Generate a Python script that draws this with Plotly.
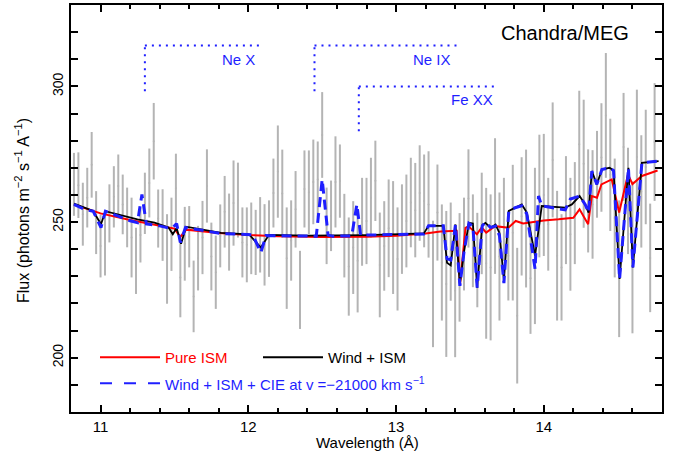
import plotly.graph_objects as go

# ---------------- data ----------------
WAVE = [10.82, 10.85, 10.88, 10.91, 10.94, 10.97, 11.00, 11.03, 11.06, 11.09,
        11.12, 11.15, 11.18, 11.21, 11.24, 11.27, 11.30, 11.33, 11.36, 11.39,
        11.42, 11.45, 11.48, 11.51, 11.54, 11.57, 11.60, 11.63, 11.66, 11.69,
        11.72, 11.75, 11.78, 11.81, 11.84, 11.87, 11.90, 11.93, 11.96, 11.99,
        12.02, 12.05, 12.08, 12.11, 12.14, 12.17, 12.20, 12.23, 12.26, 12.29,
        12.32, 12.35, 12.38, 12.41, 12.44, 12.47, 12.50, 12.53, 12.56, 12.59,
        12.62, 12.65, 12.68, 12.71, 12.74, 12.77, 12.80, 12.83, 12.86, 12.89,
        12.92, 12.95, 12.98, 13.01, 13.04, 13.07, 13.10, 13.13, 13.16, 13.19,
        13.22, 13.25, 13.28, 13.31, 13.34, 13.37, 13.40, 13.43, 13.46, 13.49,
        13.52, 13.55, 13.58, 13.61, 13.64, 13.67, 13.70, 13.73, 13.76, 13.79,
        13.82, 13.85, 13.88, 13.91, 13.94, 13.97, 14.00, 14.03, 14.06, 14.09,
        14.12, 14.15, 14.18, 14.21, 14.24, 14.27, 14.30, 14.33, 14.36, 14.39,
        14.42, 14.45, 14.48, 14.51, 14.54, 14.57, 14.60, 14.63, 14.66, 14.69,
        14.72, 14.75]

FLUX = [263.9, 263.6, 252.9, 259.0, 271.1, 249.8, 241.2, 242.2, 253.2, 259.3,
        263.3, 256.5, 251.7, 244.3, 235.7, 245.2, 256.9, 264.4, 279.8, 251.3,
        248.9, 236.4, 245.5, 262.5, 229.6, 242.0, 244.6, 222.6, 236.7, 244.3,
        263.3, 237.3, 231.5, 244.9, 253.8, 246.3, 257.0, 258.1, 242.5, 241.6,
        244.0, 242.5, 245.3, 241.6, 243.9, 260.7, 268.6, 260.5, 236.7, 243.2,
        254.7, 225.0, 262.2, 261.0, 264.8, 265.7, 282.1, 248.6, 252.3, 264.8,
        265.1, 245.0, 233.6, 240.6, 235.7, 250.1, 250.4, 259.0, 265.2, 234.2,
        241.2, 247.7, 244.3, 236.4, 247.4, 250.4, 257.2, 254.4, 260.7, 257.8,
        256.5, 227.2, 253.5, 235.1, 227.2, 239.1, 224.7, 233.3, 241.9, 258.7,
        243.1, 236.0, 249.5, 234.8, 233.3, 255.9, 237.3, 251.0, 237.6, 246.1,
        215.5, 252.1, 251.3, 229.3, 241.2, 259.6, 260.0, 249.2, 272.9, 237.6,
        233.3, 254.4, 245.5, 253.3, 278.7, 271.5, 257.8, 256.5, 267.6, 273.8,
        289.3, 267.4, 251.5, 232.8, 277.7, 257.8, 237.0, 274.0, 261.3, 270.3,
        236.8, 279.5]

ERR = [11.6, 12.1, 11.6, 11.0, 12.1, 11.6, 11.6, 11.9, 10.7, 11.3,
       11.6, 11.0, 11.0, 14.7, 12.2, 10.1, 11.3, 12.7, 14.1, 10.7,
       13.2, 16.5, 13.5, 12.7, 14.7, 13.6, 11.3, 13.2, 11.9, 13.5,
       13.5, 12.5, 13.5, 11.6, 13.2, 14.2, 15.7, 13.8, 12.9, 13.8,
       13.2, 12.0, 13.9, 15.0, 14.1, 12.7, 17.0, 16.2, 18.7, 14.8,
       14.1, 14.4, 14.2, 15.4, 15.6, 14.0, 15.8, 14.1, 13.0, 16.8,
       13.5, 15.4, 18.1, 17.1, 19.0, 16.2, 15.9, 14.7, 14.8, 19.3,
       16.5, 18.0, 20.8, 19.0, 16.5, 17.1, 16.5, 17.4, 17.6, 17.1,
       19.6, 23.3, 17.7, 21.4, 26.9, 18.1, 24.5, 20.0, 17.1, 18.1,
       17.1, 17.4, 18.7, 27.8, 26.9, 25.0, 23.6, 15.3, 16.5, 25.0,
       25.0, 21.8, 25.4, 20.5, 28.8, 22.6, 22.5, 17.1, 21.2, 23.9,
       19.6, 19.9, 20.8, 18.8, 19.7, 23.6, 19.0, 20.0, 16.0, 20.0,
       23.0, 20.7, 21.9, 25.2, 19.9, 19.6, 28.0, 24.8, 20.7, 21.1,
       20.0, 21.7]

ISM_X = [10.82, 10.90, 11.00, 11.20, 11.40, 11.50, 11.54, 11.58, 11.80, 12.00,
         12.20, 12.50, 12.80, 13.00, 13.20, 13.30, 13.41, 13.433, 13.47, 13.49,
         13.547, 13.58, 13.61, 13.67, 13.76, 13.81, 13.86, 13.93, 14.00, 14.10,
         14.20, 14.242, 14.30, 14.325, 14.36, 14.39, 14.46, 14.51, 14.57, 14.60,
         14.664, 14.77]
ISM_Y = [256.5, 255.0, 253.2, 250.8, 248.6, 247.6, 244.5, 247.2, 246.0, 245.2,
         244.8, 244.5, 244.6, 245.0, 245.8, 246.5, 246.8, 227.1, 247.9, 248.5,
         245.5, 248.0, 246.1, 248.5, 247.9, 250.4, 249.5, 250.0, 250.6, 251.0,
         251.6, 254.7, 249.2, 259.6, 259.0, 263.9, 265.7, 253.5, 267.6, 264.0,
         267.0, 269.0]

WIND_X = [10.82, 10.90, 10.95, 11.003, 11.033, 11.25, 11.365, 11.46, 11.489, 11.515,
          11.545, 11.579, 11.816, 12.005, 12.085, 12.14, 12.40, 12.80, 13.188, 13.22,
          13.32, 13.345, 13.37, 13.402, 13.432, 13.46, 13.493, 13.52, 13.549, 13.583,
          13.605, 13.64, 13.673, 13.70, 13.73, 13.763, 13.806, 13.851, 13.885, 13.941,
          13.986, 14.145, 14.19, 14.242, 14.28, 14.303, 14.325, 14.359, 14.393, 14.445,
          14.472, 14.513, 14.573, 14.603, 14.664, 14.777]
WIND_Y = [256.8, 255.2, 254.1, 249.2, 254.0, 251.0, 249.8, 248.0, 245.5, 247.8,
          242.0, 248.3, 246.0, 245.5, 240.6, 245.3, 245.0, 245.2, 245.8, 248.6,
          248.6, 235.0, 234.0, 249.1, 227.0, 239.0, 249.7, 249.5, 225.8, 248.8,
          249.7, 247.9, 249.1, 246.0, 228.4, 254.1, 255.3, 256.5, 253.5, 237.6,
          255.9, 255.3, 256.5, 259.6, 256.5, 253.5, 268.8, 263.9, 269.4, 270.0,
          269.0, 229.0, 270.0, 233.3, 271.8, 272.5]

CIE_X = [10.82, 10.90, 10.95, 11.003, 11.033, 11.20, 11.25, 11.28, 11.31, 11.40,
         11.46, 11.49, 11.515, 11.54, 11.575, 11.70, 11.81, 12.03, 12.085, 12.12,
         12.30, 12.46, 12.50, 12.54, 12.57, 12.70, 12.735, 12.76, 12.90, 13.188,
         13.22, 13.32, 13.345, 13.37, 13.402, 13.432, 13.46, 13.493, 13.52, 13.549,
         13.583, 13.605, 13.64, 13.673, 13.70, 13.73, 13.763, 13.806, 13.851, 13.885,
         13.941, 13.964, 13.986, 14.145, 14.18, 14.242, 14.28, 14.303, 14.325, 14.359,
         14.393, 14.445, 14.472, 14.513, 14.573, 14.603, 14.664, 14.777]
CIE_Y = [256.5, 254.5, 254.0, 248.0, 254.0, 250.5, 249.8, 260.2, 249.3, 248.6,
         247.8, 248.0, 249.5, 242.5, 248.0, 246.8, 245.8, 245.3, 238.8, 245.0,
         244.8, 244.8, 265.7, 245.2, 244.8, 244.9, 256.5, 245.2, 245.3, 245.6,
         248.6, 248.6, 236.5, 236.0, 249.0, 226.5, 239.0, 249.5, 248.5, 225.8,
         248.5, 250.0, 248.0, 248.5, 245.0, 227.5, 254.0, 255.3, 256.0, 253.0,
         232.7, 259.6, 256.0, 254.5, 258.5, 259.6, 256.5, 253.5, 268.8, 263.9,
         269.4, 270.0, 269.0, 229.0, 270.0, 233.3, 271.8, 272.5]

SERIES_NAMES = ["Pure ISM", "Wind + ISM", "Wind + ISM + CIE at v =\u221221000 km s<sup>\u22121</sup>"]

# line identifications: (label, x of vertical, x end of horizontal, y bottom, y top, label y, label right x)
LINE_IDS = [("Ne X", 11.30, 12.09, 298.2, 315.1, 310.0, 12.06),
            ("Ne IX", 12.448, 13.41, 298.2, 315.1, 310.0, 13.387),
            ("Fe XX", 12.748, 13.67, 283.5, 300.0, 295.3, 13.67)]

X_TICKS = [11, 12, 13, 14]
Y_TICKS = [200, 250, 300]

# ---------------- figure ----------------
FONT = "Liberation Sans, Arial, sans-serif"
RED = "#ff0000"
BLUE = "#1f1fff"
GREY = "#b4b4b4"

fig = go.Figure()
fig.add_trace(go.Scatter(
    x=WAVE, y=FLUX, mode="markers",
    marker=dict(size=2, color=GREY),
    error_y=dict(type="data", array=ERR, color=GREY, thickness=2, width=0),
    showlegend=False, hoverinfo="x+y"))
fig.add_trace(go.Scatter(x=ISM_X, y=ISM_Y, mode="lines", name=SERIES_NAMES[0],
                         line=dict(color=RED, width=2), showlegend=False))
fig.add_trace(go.Scatter(x=WIND_X, y=WIND_Y, mode="lines", name=SERIES_NAMES[1],
                         line=dict(color="black", width=1.8), showlegend=False))
fig.add_trace(go.Scatter(x=CIE_X, y=CIE_Y, mode="lines", name=SERIES_NAMES[2],
                         line=dict(color=BLUE, width=3, dash="10px,6px"), showlegend=False))

shapes = []
annotations = []
for label, xv, xe, yb, yt, ylab, xlab in LINE_IDS:
    shapes.append(dict(type="line", xref="x", yref="y", x0=xv, x1=xv, y0=yb, y1=yt,
                       line=dict(color=BLUE, width=2, dash="2px,5px")))
    shapes.append(dict(type="line", xref="x", yref="y", x0=xv, x1=xe, y0=yt, y1=yt,
                       line=dict(color=BLUE, width=2, dash="2px,5px")))
    annotations.append(dict(x=xlab, y=ylab, xref="x", yref="y", text=label, showarrow=False,
                            xanchor="right", yanchor="middle",
                            font=dict(color=BLUE, size=15, family=FONT)))

# plot area in pixels: x 71..662, y 3..412
L, R, T, B = 71, 662, 3, 412
def px(xp):
    return (xp - L) / (R - L)
def py(yp):
    return (B - yp) / (B - T)

# legend drawn manually
shapes.append(dict(type="line", xref="paper", yref="paper", x0=px(100), x1=px(160),
                   y0=py(357), y1=py(357), line=dict(color=RED, width=2)))
shapes.append(dict(type="line", xref="paper", yref="paper", x0=px(263), x1=px(323),
                   y0=py(357), y1=py(357), line=dict(color="black", width=2)))
shapes.append(dict(type="line", xref="paper", yref="paper", x0=px(100), x1=px(160),
                   y0=py(383), y1=py(383), line=dict(color=BLUE, width=2, dash="12px,12px")))
annotations.append(dict(x=px(163), y=py(357), xref="paper", yref="paper", text=SERIES_NAMES[0],
                        showarrow=False, xanchor="left", yanchor="middle",
                        font=dict(color=RED, size=15, family=FONT)))
annotations.append(dict(x=px(326), y=py(357), xref="paper", yref="paper", text=SERIES_NAMES[1],
                        showarrow=False, xanchor="left", yanchor="middle",
                        font=dict(color="black", size=15, family=FONT)))
annotations.append(dict(x=px(163), y=py(383), xref="paper", yref="paper", text=SERIES_NAMES[2],
                        showarrow=False, xanchor="left", yanchor="middle",
                        font=dict(color=BLUE, size=15, family=FONT)))

annotations.append(dict(x=px(631), y=py(31), xref="paper", yref="paper", text="Chandra/MEG",
                        showarrow=False, xanchor="right", yanchor="middle",
                        font=dict(color="black", size=20, family=FONT)))
annotations.append(dict(x=px(367), y=py(443), xref="paper", yref="paper", text="Wavelength (\u00c5)",
                        showarrow=False, xanchor="center", yanchor="middle",
                        font=dict(color="black", size=15, family=FONT)))
annotations.append(dict(x=px(22), y=py(210), xref="paper", yref="paper",
                        text="Flux (photons m<sup>\u22122</sup> s<sup>\u22121</sup> A<sup>\u22121</sup>)",
                        showarrow=False, xanchor="center", yanchor="middle", textangle=-90,
                        font=dict(color="black", size=16, family=FONT)))

fig.update_layout(
    width=685, height=456,
    margin=dict(l=L, r=685 - R, t=T, b=456 - B),
    paper_bgcolor="white", plot_bgcolor="white",
    font=dict(family=FONT, color="black", size=15),
    shapes=shapes, annotations=annotations,
    showlegend=False,
    xaxis=dict(range=[10.8, 14.8], showgrid=False, zeroline=False,
               showline=True, linecolor="black", linewidth=2, mirror="allticks",
               ticks="inside", ticklen=7, tickwidth=1.5, tickcolor="black",
               tickmode="array", tickvals=X_TICKS, ticktext=[str(v) for v in X_TICKS],
               tickfont=dict(size=15, family=FONT, color="black"),
               minor=dict(ticks="inside", ticklen=4, tickwidth=1.5, tickcolor="black",
                          tick0=10.8, dtick=0.2)),
    yaxis=dict(range=[180, 330], showgrid=False, zeroline=False,
               showline=True, linecolor="black", linewidth=2, mirror="allticks",
               ticks="inside", ticklen=7, tickwidth=1.5, tickcolor="black",
               tickmode="array", tickvals=Y_TICKS, ticktext=[str(v) for v in Y_TICKS],
               tickangle=-90,
               tickfont=dict(size=14, family=FONT, color="black"),
               minor=dict(ticks="inside", ticklen=7, tickwidth=1.5, tickcolor="black",
                          tick0=180, dtick=10)),
)

fig.write_html("out.html", config={"displayModeBar": False},
               post_script="document.body.style.margin='0';document.body.style.padding='0';")
